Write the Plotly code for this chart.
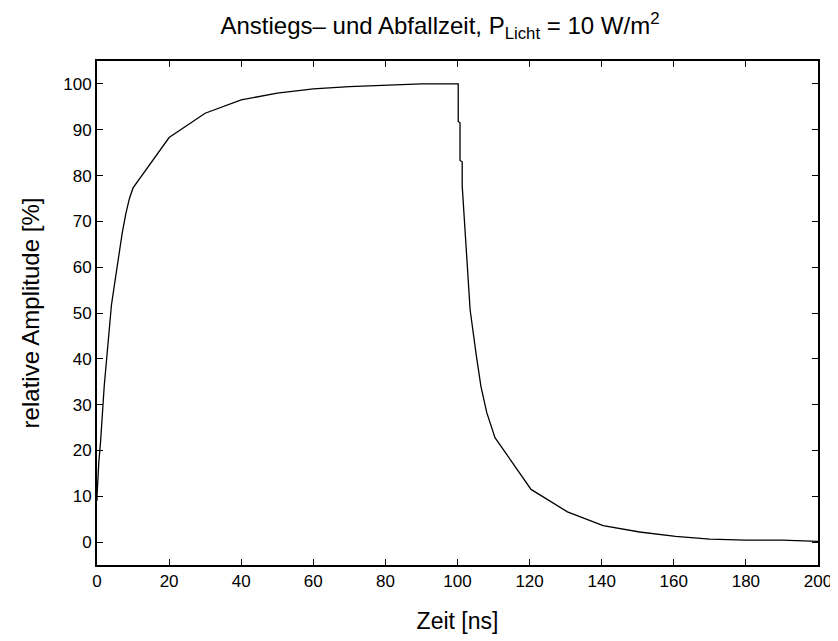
import plotly.graph_objects as go

# Rise phase (time in ns, relative amplitude in %)
rise_t = [0, 0, 0.5, 1, 2, 3, 4, 5, 6, 7, 8, 9, 10, 20, 30, 40, 50, 60, 70, 80, 90, 100]
rise_y = [9, 10, 17.4, 22, 34, 43, 51.7, 57, 62.5, 67.5, 71.7, 75, 77.3, 88.3, 93.6, 96.5, 98.0, 98.9, 99.4, 99.7, 100, 100]

# Fall phase
fall_t = [100.2, 100.2, 100.7, 100.7, 101.3, 101.3, 102.5, 103.5, 105.2, 106.5, 108.1, 110.4,
          120.4, 130.5, 140.4, 150.5, 160.5, 170, 180, 190, 200]
fall_y = [100, 91.8, 91.5, 83.3, 83.0, 77.8, 63.0, 50.7, 40.8, 34.0, 28.3, 22.8,
          11.5, 6.6, 3.6, 2.2, 1.25, 0.65, 0.43, 0.43, 0.15]

t = rise_t + fall_t
y = rise_y + fall_y

x_ticks = list(range(0, 201, 20))
y_ticks = list(range(0, 101, 10))

fig = go.Figure()
fig.add_trace(go.Scatter(x=t, y=y, mode="lines",
                         line=dict(color="black", width=1.3),
                         showlegend=False, hoverinfo="skip"))

font_family = "Liberation Sans, Arial, sans-serif"
axis_common = dict(
    showline=True, linecolor="black", linewidth=2, mirror="ticks",
    ticks="inside", ticklen=6, tickwidth=1, tickcolor="black",
    showgrid=False, zeroline=False, automargin=False,
    tickfont=dict(family=font_family, size=17, color="black"),
)

# page body has an 8px margin, so the figure is sized/offset to compensate
W, H = 830, 633
fig.update_layout(
    width=W, height=H,
    paper_bgcolor="white", plot_bgcolor="white",
    margin=dict(l=89, r=20, t=53, b=76),
    title=dict(text="Anstiegs– und Abfallzeit, P<sub>Licht</sub> = 10 W/m<sup>2</sup>",
               x=432 / W, xanchor="center", y=1 - 18 / H, yanchor="middle",
               xref="container", yref="container",
               font=dict(family=font_family, size=24, color="black")),
    xaxis=dict(range=[0, 200], tickvals=x_ticks, ticktext=[str(v) for v in x_ticks],
               title=dict(text="Zeit [ns]", standoff=22,
                          font=dict(family=font_family, size=23, color="black")),
               **axis_common),
    yaxis=dict(range=[-5, 105], tickvals=y_ticks, ticktext=[str(v) for v in y_ticks],
               title=dict(text="relative Amplitude [%]", standoff=17,
                          font=dict(family=font_family, size=24, color="black")),
               **axis_common),
)

fig.write_html("out.html")
